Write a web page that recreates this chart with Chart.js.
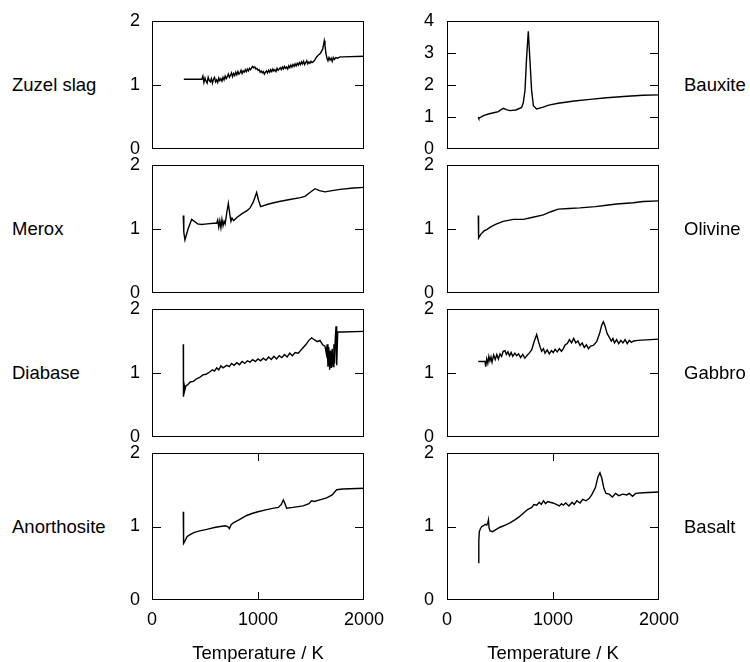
<!DOCTYPE html>
<html>
<head>
<meta charset="utf-8">
<script src="https://cdn.jsdelivr.net/npm/chart.js@4.4.1/dist/chart.umd.min.js"></script>
<style>
  body { margin: 0; background: #fff; }
  #wrap { position: relative; width: 750px; height: 662px; font-family: "Liberation Sans", Arial, sans-serif; color: #000; overflow: hidden; }
  #wrap canvas { position: absolute; }
  .name { position: absolute; font-size: 18.5px; line-height: 1; white-space: nowrap; transform: translateY(-50%); }
  .xtitle { position: absolute; font-size: 18.5px; line-height: 1; white-space: nowrap; transform: translate(-50%, -50%); }
</style>
</head>
<body>
<div id="wrap"></div>
<script>
// Tick labels
const xTicks = [0, 1000, 2000];
const yTicks = [0, 1, 2];
const yTicksBauxite = [0, 1, 2, 3, 4];
const xTitle = "Temperature / K";

// Zuzel slag
const zuzelT = [300,
  470, 480, 490, 500, 510, 520, 530, 540, 550, 560,
  570, 580, 590, 600, 610, 620, 630, 640, 650, 660,
  670, 680, 690, 700, 710, 720, 730, 740, 750, 760,
  770, 780, 790, 800, 810, 820, 830, 840, 850, 860,
  870, 880, 890, 900, 910, 920, 930, 940, 950, 960,
  970, 980, 990, 1000, 1010, 1020, 1030, 1040, 1050, 1060,
  1070, 1080, 1090, 1100, 1110, 1120, 1130, 1140, 1150, 1160,
  1170, 1180, 1190, 1200, 1210, 1220, 1230, 1240, 1250, 1260,
  1270, 1280, 1290, 1300, 1310, 1320, 1330, 1340, 1350, 1360,
  1370, 1380, 1390, 1400, 1410, 1420, 1430, 1440, 1450, 1460,
  1470, 1480, 1490, 1500, 1510, 1520, 1530, 1540, 1550, 1560,
  1570, 1580, 1590, 1600, 1610, 1620,
  1625, 1632, 1640, 1650, 1660, 1670, 1680, 1690, 1700, 1710, 1720, 1735, 1750, 1775, 1800, 2000];
const zuzelY = [1.09,
  1.09, 1.14, 1.04, 1.11, 1.06, 1.03, 1.12, 1.07, 1.05, 1.10,
  1.03, 1.09, 1.12, 1.05, 1.08, 1.04, 1.11, 1.07, 1.10, 1.06,
  1.12, 1.08, 1.14, 1.10, 1.13, 1.17, 1.12, 1.15, 1.19, 1.13,
  1.18, 1.15, 1.20, 1.16, 1.21, 1.17, 1.19, 1.23, 1.18, 1.22,
  1.20, 1.24, 1.21, 1.25, 1.22, 1.26, 1.24, 1.27, 1.29, 1.27,
  1.28, 1.25, 1.26, 1.23, 1.24, 1.20, 1.22, 1.19, 1.21, 1.17,
  1.20, 1.22, 1.19, 1.23, 1.20, 1.24, 1.21, 1.25, 1.22, 1.24,
  1.21, 1.26, 1.23, 1.25, 1.27, 1.24, 1.28, 1.25, 1.29, 1.26,
  1.28, 1.25, 1.30, 1.27, 1.31, 1.28, 1.32, 1.29, 1.33, 1.30,
  1.34, 1.31, 1.35, 1.32, 1.36, 1.33, 1.37, 1.32, 1.35, 1.38,
  1.33, 1.36, 1.34, 1.37, 1.35, 1.36, 1.38, 1.40, 1.43, 1.45,
  1.47, 1.48, 1.50, 1.53, 1.56, 1.64,
  1.69, 1.62, 1.50, 1.42, 1.38, 1.43, 1.39, 1.42, 1.37, 1.43, 1.40, 1.43, 1.42, 1.44, 1.44, 1.45];

// Merox
const meroxT = [295, 300, 311, 340, 374, 400, 430, 468, 520, 580, 610, 620, 630, 640, 650, 660, 670, 680, 690, 705, 720, 735, 745, 755, 770, 800, 850, 900, 925, 955, 987, 1005, 1025, 1100, 1200, 1300, 1400, 1443, 1490, 1538, 1580, 1632, 1700, 1774, 1900, 2000];
const meroxY = [1.21, 0.95, 0.83, 1.00, 1.15, 1.12, 1.08, 1.07, 1.08, 1.09, 1.09, 1.14, 1.03, 1.13, 1.02, 1.15, 1.05, 1.12, 1.08, 1.25, 1.40, 1.22, 1.12, 1.17, 1.13, 1.18, 1.24, 1.29, 1.33, 1.42, 1.57, 1.45, 1.35, 1.39, 1.43, 1.46, 1.49, 1.51, 1.57, 1.63, 1.60, 1.58, 1.60, 1.62, 1.64, 1.65];

// Diabase
const diabaseT = [295, 297, 305, 311, 320, 340, 360, 390, 420, 450, 480, 510, 547, 570, 590, 610, 630, 650, 670, 705, 730, 750, 775, 800, 825, 850, 875, 900, 925, 950, 975, 1000, 1025, 1050, 1075, 1100, 1125, 1150, 1175, 1200, 1225, 1250, 1275, 1300, 1325, 1350, 1380, 1412, 1450, 1480, 1506, 1530, 1560, 1585, 1610, 1632, 1645, 1652, 1660, 1668, 1676, 1684, 1692, 1700, 1708, 1716, 1722, 1728, 1736, 1740, 1745, 1752, 1800, 2000];
const diabaseY = [1.45, 0.63, 0.80, 0.74, 0.80, 0.82, 0.86, 0.87, 0.91, 0.93, 0.97, 0.98, 1.02, 1.05, 1.03, 1.08, 1.05, 1.11, 1.08, 1.12, 1.10, 1.15, 1.12, 1.16, 1.13, 1.18, 1.15, 1.19, 1.17, 1.21, 1.18, 1.22, 1.19, 1.23, 1.20, 1.25, 1.21, 1.26, 1.22, 1.27, 1.24, 1.29, 1.25, 1.31, 1.27, 1.32, 1.31, 1.37, 1.44, 1.51, 1.55, 1.52, 1.49, 1.51, 1.44, 1.42, 1.30, 1.45, 1.10, 1.40, 1.05, 1.35, 1.08, 1.38, 1.10, 1.45, 1.15, 1.50, 1.73, 1.62, 1.12, 1.64, 1.64, 1.65];

// Anorthosite
const anorthositeT = [295, 298, 310, 330, 358, 400, 450, 516, 600, 689, 715, 730, 745, 767, 820, 893, 950, 1000, 1082, 1150, 1192, 1220, 1239, 1255, 1270, 1330, 1427, 1480, 1506, 1530, 1600, 1648, 1700, 1742, 1800, 2000];
const anorthositeY = [1.20, 0.77, 0.80, 0.86, 0.89, 0.92, 0.94, 0.96, 0.99, 1.01, 1.00, 0.97, 1.02, 1.05, 1.09, 1.15, 1.18, 1.20, 1.23, 1.25, 1.26, 1.30, 1.36, 1.31, 1.25, 1.26, 1.28, 1.31, 1.35, 1.34, 1.37, 1.39, 1.43, 1.50, 1.51, 1.52];

// Bauxite
const bauxiteT = [295, 300, 320, 350, 400, 450, 485, 510, 532, 560, 594, 650, 704, 720, 736, 750, 767, 782, 798, 815, 845, 900, 960, 1049, 1200, 1350, 1505, 1700, 1850, 2000];
const bauxiteY = [1.00, 0.96, 1.00, 1.05, 1.10, 1.14, 1.17, 1.23, 1.27, 1.23, 1.20, 1.22, 1.30, 1.45, 1.84, 2.80, 3.68, 2.80, 1.84, 1.35, 1.25, 1.30, 1.37, 1.43, 1.50, 1.55, 1.60, 1.65, 1.68, 1.69];

// Olivine
const olivineT = [295, 298, 320, 350, 375, 420, 469, 530, 626, 720, 800, 909, 980, 1049, 1150, 1254, 1400, 1505, 1600, 1757, 1850, 2000];
const olivineY = [1.21, 0.86, 0.92, 0.97, 0.99, 1.04, 1.08, 1.12, 1.15, 1.15, 1.18, 1.22, 1.27, 1.31, 1.32, 1.33, 1.35, 1.37, 1.39, 1.41, 1.43, 1.44];

// Gabbro
const gabbroT = [295, 359, 365, 375, 385, 395, 405, 415, 425, 440, 455, 470, 485, 500, 515, 530, 547, 560, 575, 590, 605, 620, 640, 657, 675, 695, 715, 735, 752, 775, 799, 820, 846, 865, 880, 893, 910, 925, 945, 965, 985, 1002, 1020, 1040, 1060, 1080, 1097, 1115, 1135, 1155, 1175, 1195, 1215, 1235, 1255, 1275, 1295, 1315, 1335, 1355, 1380, 1412, 1440, 1460, 1475, 1490, 1510, 1530, 1550, 1565, 1580, 1600, 1620, 1640, 1660, 1680, 1700, 1720, 1740, 1760, 1800, 2000];
const gabbroY = [1.18, 1.18, 1.10, 1.22, 1.15, 1.26, 1.19, 1.25, 1.17, 1.28, 1.21, 1.29, 1.22, 1.30, 1.26, 1.34, 1.35, 1.29, 1.33, 1.27, 1.32, 1.26, 1.31, 1.27, 1.30, 1.24, 1.29, 1.23, 1.27, 1.31, 1.36, 1.48, 1.60, 1.48, 1.40, 1.34, 1.38, 1.31, 1.36, 1.30, 1.35, 1.32, 1.37, 1.33, 1.38, 1.34, 1.38, 1.44, 1.46, 1.52, 1.47, 1.54, 1.47, 1.50, 1.43, 1.47, 1.40, 1.44, 1.38, 1.42, 1.43, 1.49, 1.62, 1.75, 1.80, 1.74, 1.62, 1.56, 1.50, 1.54, 1.47, 1.52, 1.46, 1.51, 1.47, 1.52, 1.46, 1.51, 1.48, 1.50, 1.51, 1.53];

// Basalt
const basaltT = [295, 300, 305, 315, 328, 345, 360, 375, 385, 391, 397, 406, 430, 453, 500, 550, 594, 640, 680, 720, 760, 800, 820, 846, 870, 890, 910, 930, 950, 972, 1000, 1030, 1060, 1080, 1097, 1120, 1150, 1180, 1200, 1225, 1255, 1280, 1310, 1340, 1365, 1400, 1425, 1443, 1460, 1480, 1500, 1530, 1560, 1590, 1620, 1660, 1695, 1720, 1750, 1780, 1850, 2000];
const basaltY = [0.51, 0.80, 0.93, 0.97, 1.00, 1.01, 1.03, 1.02, 1.05, 1.09, 0.98, 0.94, 0.93, 0.95, 0.99, 1.02, 1.05, 1.09, 1.13, 1.18, 1.23, 1.26, 1.30, 1.29, 1.33, 1.30, 1.35, 1.31, 1.34, 1.33, 1.32, 1.30, 1.28, 1.31, 1.29, 1.32, 1.28, 1.33, 1.30, 1.35, 1.32, 1.37, 1.35, 1.38, 1.43, 1.53, 1.68, 1.73, 1.66, 1.52, 1.45, 1.44, 1.40, 1.45, 1.42, 1.44, 1.43, 1.45, 1.41, 1.45, 1.46, 1.47];

const panels = [
  { name: "Zuzel slag", col: 0, row: 0, t: zuzelT, y: zuzelY, ticks: yTicks },
  { name: "Merox", col: 0, row: 1, t: meroxT, y: meroxY, ticks: yTicks },
  { name: "Diabase", col: 0, row: 2, t: diabaseT, y: diabaseY, ticks: yTicks },
  { name: "Anorthosite", col: 0, row: 3, t: anorthositeT, y: anorthositeY, ticks: yTicks },
  { name: "Bauxite", col: 1, row: 0, t: bauxiteT, y: bauxiteY, ticks: yTicksBauxite },
  { name: "Olivine", col: 1, row: 1, t: olivineT, y: olivineY, ticks: yTicks },
  { name: "Gabbro", col: 1, row: 2, t: gabbroT, y: gabbroY, ticks: yTicks },
  { name: "Basalt", col: 1, row: 3, t: basaltT, y: basaltY, ticks: yTicks },
];

// page layout (plot areas)
const colLeft = [152, 447];
const plotWidth = 212;
const rowTop = [21, 165, 309, 453];
const rowBottom = [149, 293, 437, 600];
const nameLeft = [12, 684];
const tickFont = { family: "'Liberation Sans', Arial, sans-serif", size: 18 };

const wrap = document.getElementById("wrap");

// box round the plot area plus the short inward ticks
function framePlugin(yVals, showX) {
  return {
    id: "frame",
    afterDraw(chart) {
      const { ctx, chartArea: a, scales } = chart;
      ctx.save();
      ctx.strokeStyle = "#000";
      ctx.fillStyle = "#000";
      ctx.lineWidth = 1;
      ctx.strokeRect(a.left + 0.5, a.top + 0.5, a.width - 1, a.height - 1);
      yVals.slice(1, -1).forEach((v) => {
        const py = Math.round(scales.y.getPixelForValue(v));
        ctx.fillRect(a.left, py, 9, 1);
        ctx.fillRect(a.right - 9, py, 9, 1);
      });
      if (showX) {
        xTicks.slice(1, -1).forEach((v) => {
          const px = Math.round(scales.x.getPixelForValue(v));
          ctx.fillRect(px, a.top, 1, 8);
          ctx.fillRect(px, a.bottom - 8, 1, 8);
        });
      }
      ctx.restore();
    },
  };
}

// keep the plot area where we put it: no extra room for edge labels
function noPadding(s) {
  s.paddingTop = 0;
  s.paddingBottom = 0;
  s.paddingLeft = 0;
  s.paddingRight = 0;
}

function makePanel(p) {
  const axisW = 32;
  const padTop = 12;
  const padRight = 24;
  const isBottom = p.row === 3;
  const xAxisH = isBottom ? 36 : 0;
  const padBottom = isBottom ? 0 : 12;
  const areaH = rowBottom[p.row] - rowTop[p.row];

  const canvas = document.createElement("canvas");
  canvas.width = axisW + plotWidth + padRight;
  canvas.height = padTop + areaH + xAxisH + padBottom;
  canvas.style.left = colLeft[p.col] - axisW + "px";
  canvas.style.top = rowTop[p.row] - padTop + "px";
  wrap.appendChild(canvas);

  const points = p.t.map((t, i) => ({ x: t, y: p.y[i] }));
  const yMax = p.ticks[p.ticks.length - 1];

  new Chart(canvas, {
    type: "line",
    data: {
      datasets: [
        {
          data: points,
          borderColor: "#000",
          borderWidth: 1.4,
          pointRadius: 0,
          tension: 0,
          fill: false,
        },
      ],
    },
    options: {
      responsive: false,
      animation: false,
      devicePixelRatio: 1,
      layout: { padding: { top: padTop, right: padRight, bottom: padBottom, left: 0 } },
      plugins: {
        legend: { display: false },
        tooltip: { enabled: false },
      },
      scales: {
        x: {
          type: "linear",
          min: 0,
          max: 2000,
          grid: { display: false, drawTicks: false },
          border: { display: false },
          afterBuildTicks: (s) => { s.ticks = xTicks.map((v) => ({ value: v })); },
          ticks: {
            display: isBottom,
            color: "#000",
            font: tickFont,
            padding: 9,
            maxRotation: 0,
            callback: (v) => String(v),
          },
          afterFit: (s) => { s.height = xAxisH; noPadding(s); },
        },
        y: {
          type: "linear",
          min: 0,
          max: yMax,
          grid: { display: false, drawTicks: false },
          border: { display: false },
          afterBuildTicks: (s) => { s.ticks = p.ticks.map((v) => ({ value: v })); },
          ticks: {
            color: "#000",
            font: tickFont,
            padding: p.col === 0 ? 12 : 13,
            callback: (v) => String(v),
          },
          afterFit: (s) => { s.width = axisW; noPadding(s); },
        },
      },
    },
    plugins: [framePlugin(p.ticks, isBottom)],
  });

  const label = document.createElement("div");
  label.className = "name";
  label.textContent = p.name;
  label.style.left = nameLeft[p.col] + "px";
  label.style.top = (rowTop[p.row] + rowBottom[p.row]) / 2 + "px";
  wrap.appendChild(label);
}

panels.forEach(makePanel);

colLeft.forEach((left) => {
  const title = document.createElement("div");
  title.className = "xtitle";
  title.textContent = xTitle;
  title.style.left = left + plotWidth / 2 + "px";
  title.style.top = "653px";
  wrap.appendChild(title);
});
</script>
</body>
</html>
